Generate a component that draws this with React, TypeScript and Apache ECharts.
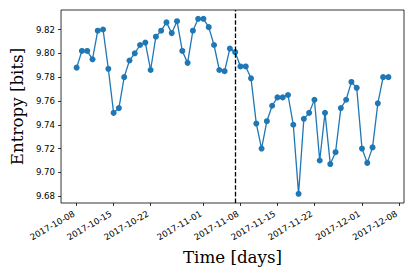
import React, { useEffect, useRef } from "react";
import * as echarts from "echarts";

const DAY = 86400000;
const startDate = Date.UTC(2017, 9, 8);
const entropy = [
  9.788, 9.802, 9.802, 9.795, 9.819, 9.82, 9.787, 9.75, 9.754, 9.78,
  9.794, 9.8, 9.807, 9.809, 9.786, 9.814, 9.819, 9.826, 9.817, 9.827,
  9.802, 9.792, 9.819, 9.829, 9.829, 9.822, 9.807, 9.786, 9.785, 9.804,
  9.801, 9.789, 9.789, 9.779, 9.741, 9.72, 9.743, 9.756, 9.763, 9.763,
  9.765, 9.74, 9.682, 9.745, 9.75, 9.761, 9.71, 9.75, 9.707, 9.717,
  9.754, 9.761, 9.776, 9.771, 9.72, 9.708, 9.721, 9.758, 9.78, 9.78,
];
const xTickLabels = [
  "2017-10-08", "2017-10-15", "2017-10-22", "2017-11-01", "2017-11-08",
  "2017-11-15", "2017-11-22", "2017-12-01", "2017-12-08",
];
const yTicks = [9.68, 9.7, 9.72, 9.74, 9.76, 9.78, 9.8, 9.82];
const markerDate = "2017-11-07";

const parseDate = (s: string) => {
  const [y, m, d] = s.split("-").map(Number);
  return Date.UTC(y, m - 1, d);
};
const fmt = (v: number) => {
  const d = new Date(v);
  const p = (n: number) => String(n).padStart(2, "0");
  return `${d.getUTCFullYear()}-${p(d.getUTCMonth() + 1)}-${p(d.getUTCDate())}`;
};

export default function App() {
  const ref = useRef<HTMLDivElement>(null);
  useEffect(() => {
    const chart = echarts.init(ref.current!, undefined, { renderer: "svg" });
    const data = entropy.map((v, i) => [startDate + i * DAY, v]);
    const n = entropy.length;
    const serif = "DejaVu Serif";
    const sans = "DejaVu Sans";
    chart.setOption({
      animation: false,
      grid: {
        left: 59.5,
        right: 11,
        top: 10,
        bottom: 74,
        show: true,
        borderColor: "#000",
        borderWidth: 0.8,
      },
      xAxis: {
        type: "value",
        min: startDate - 2.95 * DAY,
        max: startDate + (n - 1 + 2.95) * DAY,
        name: "Time [days]",
        nameLocation: "middle",
        nameGap: 44,
        nameTextStyle: { fontFamily: serif, fontSize: 16.7, color: "#000" },
        axisLine: { show: false },
        splitLine: { show: false },
        axisTick: {
          show: true,
          length: 3,
          lineStyle: { color: "#000", width: 0.8 },
          customValues: xTickLabels.map(parseDate),
        },
        axisLabel: {
          customValues: xTickLabels.map(parseDate),
          formatter: (v: number) => fmt(v),
          rotate: 30,
          margin: 8.5,
          padding: [0, 3, 0, 0],
          fontFamily: sans,
          fontSize: 8.6,
          color: "#000",
          hideOverlap: false,
        },
      },
      yAxis: {
        type: "value",
        min: 9.6743,
        max: 9.8364,
        name: "Entropy [bits]",
        nameLocation: "middle",
        nameGap: 33,
        nameTextStyle: { fontFamily: serif, fontSize: 16.7, color: "#000" },
        axisLine: { show: false },
        splitLine: { show: false },
        axisTick: {
          show: true,
          length: 3,
          lineStyle: { color: "#000", width: 0.8 },
          customValues: yTicks,
        },
        axisLabel: {
          customValues: yTicks,
          formatter: (v: number) => v.toFixed(2),
          margin: 6,
          fontFamily: sans,
          fontSize: 8.6,
          color: "#000",
        },
      },
      series: [
        {
          type: "line",
          data,
          symbol: "circle",
          symbolSize: 6,
          showSymbol: true,
          itemStyle: { color: "#1f77b4" },
          lineStyle: { color: "#1f77b4", width: 1.3 },
          markLine: {
            silent: true,
            symbol: "none",
            label: { show: false },
            lineStyle: { color: "#000", type: [4.6, 2], width: 1.3 },
            data: [{ xAxis: parseDate(markerDate) }],
          },
        },
      ],
    });
    return () => chart.dispose();
  }, []);
  return (
    <div
      ref={ref}
      style={{ position: "fixed", left: 0, top: 0, width: 415, height: 277, background: "#fff" }}
    />
  );
}
